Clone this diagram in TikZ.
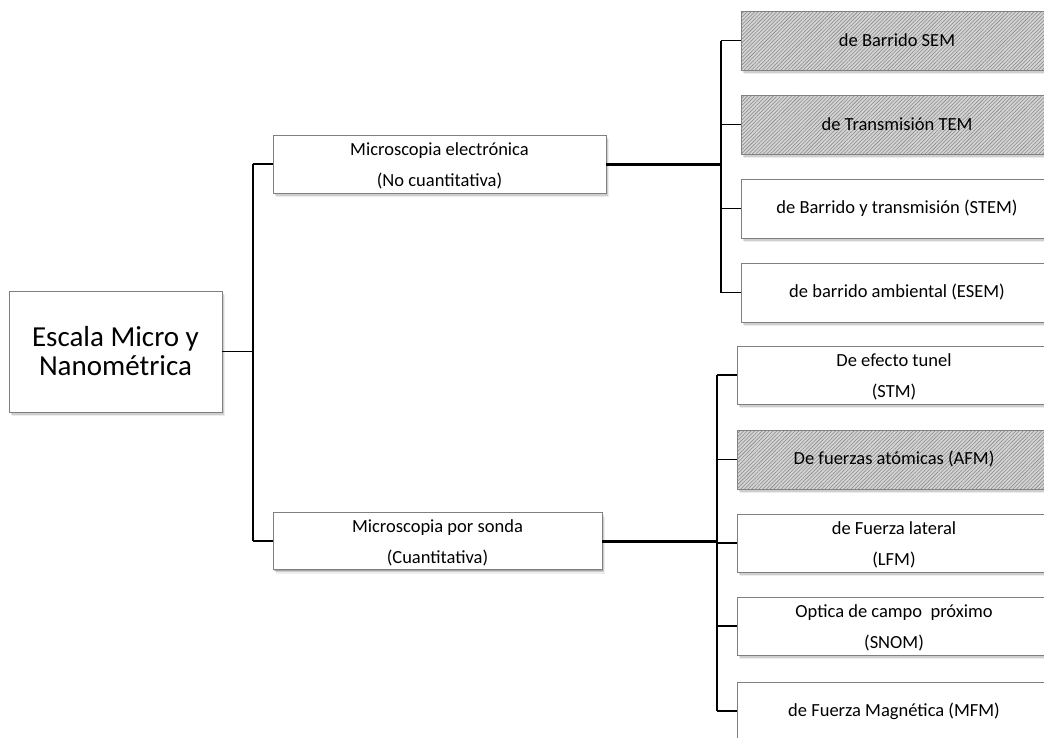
\documentclass[tikz,border=0pt]{standalone}
\usepackage{fontspec}
\setmainfont{Carlito}
\usetikzlibrary{shadows,patterns.meta}
\newcommand{\topfix}{\rule{0pt}{17pt}}
\begin{document}
\begin{tikzpicture}[x=1pt,y=-1pt,
  softshadow/.style={
    drop shadow={shadow xshift=0.8pt,shadow yshift=-1.4pt,opacity=.2,fill=black},
    drop shadow={shadow xshift=1.8pt,shadow yshift=-2.8pt,opacity=.13,fill=black},
    drop shadow={shadow xshift=2.8pt,shadow yshift=-4.2pt,opacity=.07,fill=black}},
  box/.style={draw=black!50,line width=0.9pt,fill=white,softshadow,inner sep=0pt,
    align=center,font=\fontsize{18.5}{31}\selectfont},
  hatch/.style={box,fill=black!17,
    postaction={pattern={Lines[angle=45,distance=2.6pt,line width=0.55pt]},pattern color=black!47}},
  thin/.style={line width=1.6pt},
  trunk/.style={line width=2pt},
  thick/.style={line width=3pt}]
\useasboundingbox (0,0) rectangle (1044,737);
\clip (0,0) rectangle (1044,737);

% root and middle level
\node[box,minimum width=213pt,minimum height=121pt,font=\fontsize{29}{29}\selectfont] (root) at (115.5,351.5) {Escala Micro y\\Nanométrica};
\node[box,minimum width=333pt,minimum height=58pt] (elec) at (439.5,164) {\topfix Microscopia electrónica\\(No cuantitativa)};
\node[box,minimum width=329pt,minimum height=57pt] (sonda) at (437.5,541) {\topfix Microscopia por sonda\\(Cuantitativa)};

% upper right group
\node[hatch,minimum width=312pt,minimum height=59pt] (sem) at (897,40.5) {de Barrido SEM};
\node[hatch,minimum width=312pt,minimum height=59pt] (tem) at (897,124.5) {de Transmisión TEM};
\node[box,minimum width=312pt,minimum height=59pt] (stem) at (897,208.5) {de Barrido y transmisión (STEM)};
\node[box,minimum width=312pt,minimum height=59pt] (esem) at (897,292.5) {de barrido ambiental (ESEM)};

% lower right group
\node[box,minimum width=314pt,minimum height=58pt] (stm) at (894,375) {\topfix De efecto tunel\\(STM)};
\node[hatch,minimum width=314pt,minimum height=59pt] (afm) at (894,459.5) {De fuerzas atómicas (AFM)};
\node[box,minimum width=314pt,minimum height=58pt] (lfm) at (894,543) {\topfix de Fuerza lateral\\(LFM)};
\node[box,minimum width=314pt,minimum height=58pt] (snom) at (894,626) {\topfix Optica de campo\ \ próximo\\(SNOM)};
\node[box,minimum width=314pt,minimum height=58pt] (mfm) at (894,711) {de Fuerza Magnética (MFM)};

% trunk positions
\coordinate (ta) at (252.5,0);
\coordinate (tb) at (721,0);
\coordinate (tc) at (717,0);

% root connectors
\draw[thin] (root.east) -- (root.east -| ta);
\draw[trunk] (elec.west -| ta) -- (sonda.west -| ta);
\draw[thin] (elec.west -| ta) -- (elec.west);
\draw[thin] (sonda.west -| ta) -- (sonda.west);

% upper group connectors
\draw[thick] (elec.east) -- (elec.east -| tb);
\draw[trunk] (sem.west -| tb) -- (esem.west -| tb);
\foreach \n in {sem,tem,stem,esem}
  \draw[thin] (\n.west -| tb) -- (\n.west);

% lower group connectors
\draw[thick] (sonda.east) -- (sonda.east -| tc);
\draw[trunk] (stm.west -| tc) -- (mfm.west -| tc);
\foreach \n in {stm,afm,lfm,snom,mfm}
  \draw[thin] (\n.west -| tc) -- (\n.west);
\end{tikzpicture}
\end{document}
